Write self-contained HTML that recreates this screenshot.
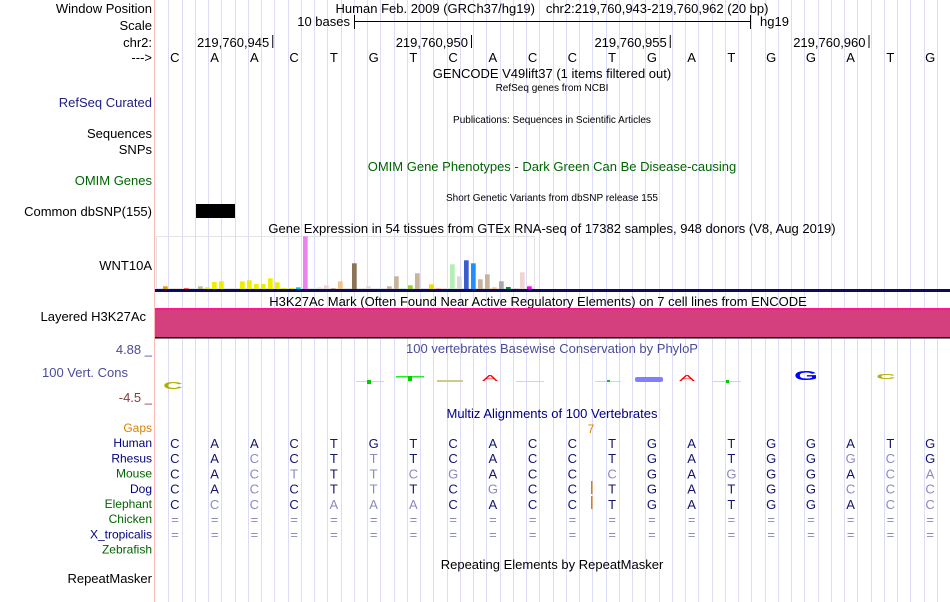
<!DOCTYPE html>
<html><head><meta charset="utf-8"><style>
body{margin:0;background:#fff;}
svg{display:block;font-family:"Liberation Sans",Arial,sans-serif;}
</style></head><body>
<svg id="c" width="950" height="602" viewBox="0 0 950 602">
<g id="guides"></g>
<line x1="154.5" y1="0" x2="154.5" y2="602" stroke="#ffb8b8"/>
<g font-size="13" text-anchor="end" fill="#000">
<text x="152" y="13">Window Position</text>
<text x="152" y="30">Scale</text>
<text x="152" y="47">chr2:</text>
<text x="152" y="62">---&gt;</text>
<text x="152" y="107" fill="#202080">RefSeq Curated</text>
<text x="152" y="138">Sequences</text>
<text x="152" y="154">SNPs</text>
<text x="152" y="185" fill="#006400">OMIM Genes</text>
<text x="152" y="216">Common dbSNP(155)</text>
<text x="152" y="270">WNT10A</text>
<text x="146" y="321">Layered H3K27Ac</text>
<text x="152" y="354" fill="#4b4b9b">4.88 _</text>
<text x="128" y="377" fill="#4b4b9b">100 Vert. Cons</text>
<text x="152" y="402" fill="#8b3a3a">-4.5 _</text>
<text x="152" y="583">RepeatMasker</text>
</g>
<g font-size="12" text-anchor="end" id="alnLabels"></g>
<g font-size="13" text-anchor="middle">
<text x="552" y="13" xml:space="preserve">Human Feb. 2009 (GRCh37/hg19)   chr2:219,760,943-219,760,962 (20 bp)</text>
<text x="552" y="78">GENCODE V49lift37 (1 items filtered out)</text>
<text x="552" y="91" font-size="10">RefSeq genes from NCBI</text>
<text x="552" y="123" font-size="10">Publications: Sequences in Scientific Articles</text>
<text x="552" y="171" fill="#006400">OMIM Gene Phenotypes - Dark Green Can Be Disease-causing</text>
<text x="552" y="201" font-size="10">Short Genetic Variants from dbSNP release 155</text>
<text x="552" y="233">Gene Expression in 54 tissues from GTEx RNA-seq of 17382 samples, 948 donors (V8, Aug 2019)</text>
<text x="538" y="306">H3K27Ac Mark (Often Found Near Active Regulatory Elements) on 7 cell lines from ENCODE</text>
<text x="552" y="353" fill="#4b4b9b">100 vertebrates Basewise Conservation by PhyloP</text>
<text x="552" y="418" fill="#000080">Multiz Alignments of 100 Vertebrates</text>
<text x="552" y="569">Repeating Elements by RepeatMasker</text>
</g>
<g font-size="13">
<text x="350" y="26" text-anchor="end">10 bases</text>
<line x1="354" y1="21.5" x2="750" y2="21.5" stroke="#000"/>
<line x1="354.5" y1="15" x2="354.5" y2="29" stroke="#000"/>
<line x1="750.5" y1="15" x2="750.5" y2="29" stroke="#000"/>
<text x="760" y="26">hg19</text>
</g>
<g id="ruler" font-size="13"></g>
<g id="bases" font-size="13" text-anchor="middle"></g>
<rect x="196" y="204" width="39" height="14" fill="#000"/>
<rect x="156.5" y="236.5" width="378" height="52" fill="none" stroke="#e4e4e4"/>
<g id="gtex"></g>
<rect x="155" y="289" width="795" height="3" fill="#0a0a60"/>
<rect x="155" y="308" width="795" height="30" fill="#d4407e"/>
<rect x="155" y="308" width="795" height="2" fill="#ff1493"/>
<rect x="155" y="337" width="795" height="1.5" fill="#000"/>
<g id="cons">
<text x="173" y="391" font-size="17" font-weight="bold" fill="#b0b000" text-anchor="middle" transform="translate(173,386) scale(1.6,0.6) translate(-173,-386)">C</text>
<rect x="356" y="381" width="28" height="1" fill="#9f9"/><rect x="367" y="380" width="4" height="4" fill="#0c0"/>
<rect x="396" y="376" width="28" height="1.5" fill="#2e2"/><rect x="408" y="376" width="4" height="5" fill="#0c0"/>
<rect x="437" y="380" width="26" height="2" fill="#cc8"/>
<text x="490" y="381" font-size="12" fill="#f00" text-anchor="middle" transform="translate(490,381) scale(2,0.65) translate(-490,-381)">A</text>
<rect x="516" y="381" width="28" height="1" fill="#dd9"/>
<rect x="595" y="381" width="26" height="1" fill="#9f9"/><rect x="607" y="380" width="3" height="2" fill="#0c0"/>
<rect x="635" y="377" width="28" height="5" rx="2" fill="#8080ff"/>
<text x="687" y="381" font-size="12" fill="#f00" text-anchor="middle" transform="translate(687,381) scale(2,0.65) translate(-687,-381)">A</text>
<rect x="713" y="381" width="28" height="1" fill="#9f9"/><rect x="726" y="380" width="3" height="3" fill="#0c0"/>
<text x="806" y="380" font-size="17" font-weight="bold" fill="#00f" text-anchor="middle" transform="translate(806,380) scale(1.8,0.75) translate(-806,-380)">G</text>
<text x="886" y="379" font-size="14" font-weight="bold" fill="#b0b000" text-anchor="middle" transform="translate(886,379) scale(1.9,0.5) translate(-886,-379)">C</text>
</g>
<text x="591" y="433" font-size="12" fill="#e08000" text-anchor="middle">7</text>
<rect x="591" y="481" width="1.5" height="13" fill="#e08000"/>
<rect x="591" y="496" width="1.5" height="13" fill="#e08000"/>
<g id="aln" font-size="13" text-anchor="middle"></g>
</svg>
<script>
const refBases = "CAACTGTCACCTGATGGATG";
const species = ["Human","Rhesus","Mouse","Dog","Elephant","Chicken","X_tropicalis"];
const speciesSeqs = ["CAACTGTCACCTGATGGATG","CACCTTTCACCTGATGGGCG","CACTTTCGACCCGAGGGACA","CACCTTTCGCCTGATGGCCC","CCCCAAACACCTGATGGACC","====================","===================="];
const labelNames = ["Gaps","Human","Rhesus","Mouse","Dog","Elephant","Chicken","X_tropicalis","Zebrafish"];
const labelColors = ["#e08000","#000080","#000080","#006400","#000080","#006400","#006400","#000080","#006400"];
const rulerLabels = ["219,760,945","219,760,950","219,760,955","219,760,960"];
const rulerBaseIdx = [2,7,12,17];
const gtexValues = [2.7,0,0,1,0,2.7,1.7,7,7.7,0,0,7.7,8.7,5,5,10.7,6.7,1,1,1.7,52.7,0,1.7,3.7,1,7.7,0,25.7,0,2.7,0,0,2.7,12.7,0,3.7,15.7,0,4.7,1,0,24.7,12.7,28.7,25.7,9.7,14.7,1.7,7.7,2,1,16.7,2.7,0];
const gtexColors = ["#ee9a00","#ffd700","#ffb6c1","#ff6347","#ff7f50","#c8b49a","#eeee00","#eeee00","#eeee00","#eeee00","#eeee00","#eeee00","#eeee00","#eeee00","#eeee00","#eeee00","#eeee00","#eeee00","#eeee00","#00cdcd","#ee82ee","#eedddd","#eedddd","#eed5d2","#c8b49a","#f4c28a","#8b7355","#8b7355","#eed5d2","#eed5d2","#c8b49a","#c8b49a","#c8b49a","#c8b49a","#9acd32","#9acd32","#c8b49a","#ffd700","#ffd700","#ffb6c1","#ffb6c1","#b4eeb4","#d9d9d9","#3a5fcd","#1e90ff","#c8b49a","#c8b49a","#f4c28a","#a9a9a9","#008b45","#eed5d2","#eed5d2","#ff00ff","#ff00ff"];
const NS="http://www.w3.org/2000/svg";
const x0=155, bw=39.75;
function baseX(i){return x0+bw*(i+0.5);}
function gx(i){return 163+7*i;}
function gy(v){return 289-v;}
function mk(tag,attrs,parent){const e=document.createElementNS(NS,tag);for(const k in attrs)e.setAttribute(k,attrs[k]);parent.appendChild(e);return e;}
const guides=document.getElementById('guides');
for(let x=x0+13.25;x<950;x+=13.25){
  const l=mk('line',{x1:Math.round(x)+0.5,y1:0,x2:Math.round(x)+0.5,y2:602,stroke:'#dcdcf8'},guides);
  
  
}
const ruler=document.getElementById('ruler');
rulerLabels.forEach((s,k)=>{
  const xe=x0+bw*(rulerBaseIdx[k]+1)-2;
  const t=mk('text',{x:xe-3,y:47,'text-anchor':'end'},ruler);t.textContent=s;
  
  
  mk('line',{x1:xe+0.5,y1:35,x2:xe+0.5,y2:48,stroke:'#000'},ruler);
});
const bases=document.getElementById('bases');
for(let i=0;i<refBases.length;i++){
  const t=mk('text',{x:baseX(i),y:62},bases);t.textContent=refBases[i];
  
  
}
const gtex=document.getElementById('gtex');
gtexValues.forEach((v,i)=>{
  if(v<=0)return;
  const r=mk('rect',{x:gx(i),y:gy(v),width:4.7,height:v,fill:gtexColors[i]},gtex);
  
  
});
const al=document.getElementById('alnLabels');
labelNames.forEach((n,k)=>{
  const t=mk('text',{x:152,y:432+15.2*k,fill:labelColors[k]},al);t.textContent=n;
  
  
});
const aln=document.getElementById('aln');
speciesSeqs.forEach((seq,r)=>{
  for(let i=0;i<seq.length;i++){
    const c=seq[i];
    const light=(c==='=')||(r>0&&c!==refBases[i]);
    const t=mk('text',{x:baseX(i),y:448+15.2*r,fill:light?'#8a8ac0':'#14146e'},aln);
    t.textContent=c;
    
    
  }
});
</script>
</body></html>
